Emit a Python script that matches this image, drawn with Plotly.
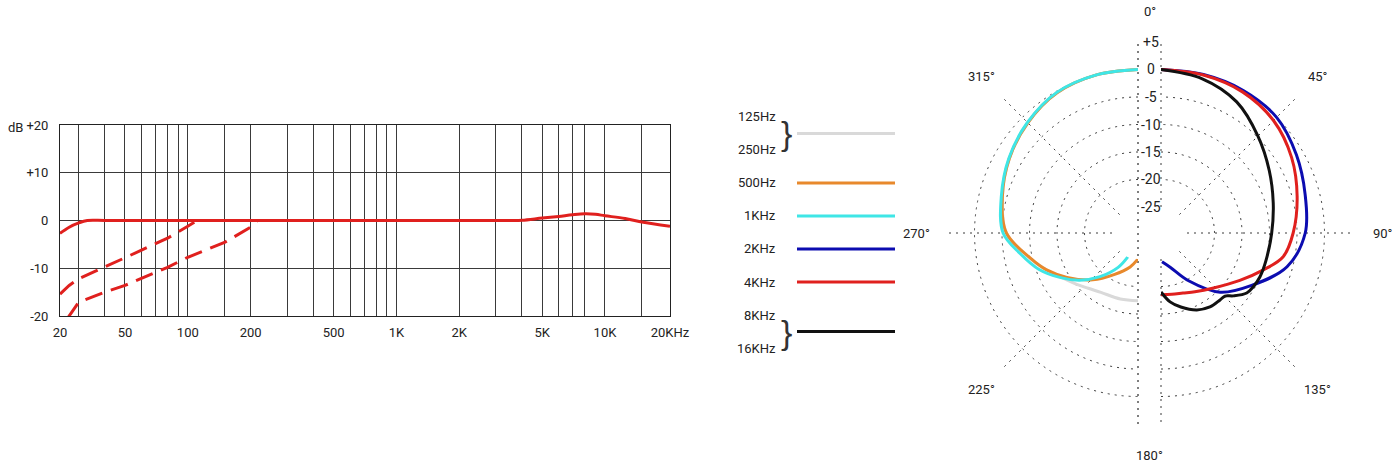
import math
import plotly.graph_objects as go

W, H = 1400, 465

# ---------------- frequency response (Hz / dB) ----------------
resp_freq = [24.4, 27, 30, 33, 40, 60, 100, 1000, 2000, 3000, 3600, 4000, 5000, 6000, 7000, 8000, 9000,
             10000, 12500, 15000, 20500]
resp_db = [-2.7, -1.4, -0.5, 0, 0, 0, 0, 0, 0, 0, 0, 0.05, 0.5, 0.85, 1.2, 1.4, 1.3, 1.0, 0.4, -0.3, -1.2]

cut1_freq = [24.4, 27, 30, 40, 50, 60, 80, 100, 111]
cut1_db = [-15.4, -13.6, -12.2, -9.8, -7.8, -6.2, -3.7, -1.2, 0]

cut2_freq = [26.5, 30, 40, 50, 80, 100, 150, 200, 216]
cut2_db = [-20.5, -17.1, -15.0, -13.6, -9.8, -7.7, -4.6, -1.4, 0]

grid_freq = [24.4, 30, 40, 50, 60, 70, 80, 90, 100, 150, 200, 300, 400, 500, 600, 700, 800, 900,
             1000, 2000, 3000, 4000, 5000, 6000, 7000, 8000, 10000, 15000, 20500]
freq_labels = {24.4: '20', 50: '50', 100: '100', 200: '200', 500: '500',
               1000: '1K', 2000: '2K', 5000: '5K', 10000: '10K', 20500: '20KHz'}

db_ticks = [-20, -10, 0, 10, 20]
db_labels = ['-20', '-10', '0', '+10', '+20']

# ---------------- polar pattern (deg / dB) ----------------
ring_db = [-25, -20, -15, -10, -5, 0, 5]
ring_labels = ['-25', '-20', '-15', '-10', '-5', '0', '+5']

# left half: 125/250Hz, 500Hz, 1KHz
gray_theta = [360, 345, 330, 315, 300, 285, 270, 257, 245, 238, 230, 222, 212, 195, 180]
gray_r = [0, 0, -0.3, -1.4, -2.7, -4.2, -5.8, -9.5, -12.5, -14.0, -15.2, -16.2, -17.0, -17.3, -17.4]

orange_theta = [360, 345, 330, 315, 300, 285, 270, 257, 248, 238, 224, 210, 193, 180]
orange_r = [0, 0, -0.3, -1.4, -2.7, -4.2, -5.8, -9.6, -11.8, -14.5, -17.9, -21.0, -23.4, -25]

cyan_theta = [360, 345, 330, 315, 300, 285, 270, 260, 250, 240, 231, 221, 210, 203]
cyan_r = [0, 0, -0.2, -1.3, -2.6, -4.0, -5.2, -8.0, -10.5, -13.5, -16.1, -19.2, -22.5, -25]

# right half: 2KHz, 4KHz, 8/16KHz
blue_theta = [0, 15, 30, 45, 60, 75, 90, 105, 120, 135, 150, 165, 178]
blue_r = [0, 0.1, 0.2, 0, -1.3, -2.6, -3.5, -6.0, -10.7, -14.5, -19.7, -23.3, -24.5]

red_theta = [0, 15, 30, 45, 60, 75, 90, 101, 110, 121, 137, 150, 160, 170, 180]
red_r = [0, 0, -0.1, -0.8, -2.3, -4.1, -5.7, -7.1, -10.0, -13.0, -16.0, -17.4, -18.1, -18.4, -18.5]

black_theta = [0, 15, 30, 45, 60, 75, 90, 105, 114, 120, 125, 131, 134.6, 138.6, 146.5, 155, 165, 172.5, 180]
black_r = [0, -0.7, -2.2, -4.8, -7.0, -8.6, -9.6, -10.0, -10.05, -10.3, -10.7, -12.3, -13.4, -13.5, -13.6, -14.3,
           -15.8, -17.1, -19]

# legend rows
leg_labels = ['125Hz', '250Hz', '500Hz', '1KHz', '2KHz', '4KHz', '8KHz', '16KHz']
series_names = ['125Hz/250Hz', '500Hz', '1KHz', '2KHz', '4KHz', '8KHz/16KHz']
series_colors = ['#d9d9d9', '#e8892c', '#3fe6e6', '#0c0cb0', '#e0201e', '#111111']
series_rows = [0.5, 2, 3, 4, 5, 6.5]

RED = '#e0201e'
GRID = '#3a3a3a'
FONT = 'Roboto'

fig = go.Figure()

# frequency response
fig.add_trace(go.Scatter(x=cut2_freq, y=cut2_db, mode='lines', line=dict(color=RED, width=3, dash='18px,9px'),
                         xaxis='x', yaxis='y', showlegend=False))
fig.add_trace(go.Scatter(x=cut1_freq, y=cut1_db, mode='lines', line=dict(color=RED, width=3, dash='18px,9px'),
                         xaxis='x', yaxis='y', showlegend=False))
fig.add_trace(go.Scatter(x=resp_freq, y=resp_db, mode='lines', line=dict(color=RED, width=3, shape='spline'),
                         xaxis='x', yaxis='y', showlegend=False))

# polar curves
left = [(gray_theta, gray_r, 0), (orange_theta, orange_r, 1), (cyan_theta, cyan_r, 2)]
right = [(blue_theta, blue_r, 3), (red_theta, red_r, 4), (black_theta, black_r, 5)]
for th, r, i in left:
    fig.add_trace(go.Scatterpolar(theta=th, r=r, mode='lines', subplot='polar2', showlegend=False,
                                  line=dict(color=series_colors[i], width=3, shape='spline')))
for th, r, i in right:
    fig.add_trace(go.Scatterpolar(theta=th, r=r, mode='lines', subplot='polar', showlegend=False,
                                  line=dict(color=series_colors[i], width=3, shape='spline')))

# legend lines
for i, name in enumerate(series_names):
    fig.add_trace(go.Scatter(x=[59, 157], y=[series_rows[i]] * 2, mode='lines', name=name,
                             line=dict(color=series_colors[i], width=3), xaxis='x3', yaxis='y3',
                             showlegend=False, hoverinfo='skip'))

# polar geometry (pixels)
R_OUT = 191
CY = 233
CX_L, CX_R = 1138, 1161
HOLE = 26 / R_OUT
dot = '2px,5px'

polar_base = dict(
    bgcolor='rgba(0,0,0,0)',
    hole=HOLE,
    radialaxis=dict(range=[-25, 5], tickvals=ring_db, showticklabels=False, ticks='', showline=False,
                    gridcolor=GRID, griddash=dot, gridwidth=1.3),
)
ang_base = dict(rotation=90, direction='clockwise', showline=False, ticks='', showticklabels=False,
                gridcolor=GRID, griddash=dot, gridwidth=1.3)

ydom_polar = [1 - (CY + R_OUT) / H, 1 - (CY - R_OUT) / H]

fig.update_layout(
    width=W, height=H,
    margin=dict(l=0, r=0, t=0, b=0, autoexpand=False),
    paper_bgcolor='white', plot_bgcolor='white',
    font=dict(family=FONT, size=13, color='#222'),
    xaxis=dict(type='log', domain=[60 / W, 670 / W], range=[math.log10(24.4), math.log10(20500)],
               tickvals=grid_freq, ticktext=[freq_labels.get(f, '') for f in grid_freq],
               showgrid=True, gridcolor=GRID, gridwidth=1, ticks='outside', ticklen=4,
               tickcolor='rgba(0,0,0,0)', showline=True, mirror=True, automargin=False,
               linecolor='#222', linewidth=1, zeroline=False, anchor='y', tickfont=dict(size=13),
               fixedrange=True),
    yaxis=dict(domain=[1 - 316 / H, 1 - 125 / H], range=[-20, 20], tickvals=db_ticks, ticktext=db_labels,
               showgrid=True, gridcolor=GRID, gridwidth=1, ticks='outside', ticklen=8,
               tickcolor='rgba(0,0,0,0)', showline=True, mirror=True, automargin=False,
               linecolor='#222', linewidth=1, zeroline=False, anchor='x', tickfont=dict(size=13),
               fixedrange=True),
    xaxis3=dict(domain=[738 / W, 896 / W], range=[0, 158], visible=False, anchor='y3', fixedrange=True,
                automargin=False),
    yaxis3=dict(domain=[1 - 364.5 / H, 1 - 100.5 / H], range=[7.5, -0.5], visible=False, anchor='x3',
                fixedrange=True, automargin=False),
    polar=dict(polar_base, domain=dict(x=[CX_R / W, (CX_R + R_OUT) / W], y=ydom_polar), sector=[-90, 90],
               angularaxis=dict(ang_base, tickvals=[0, 45, 90, 135, 180])),
    # left half: 315°, 270°, 225° spokes (as -45, -90, -135)
    polar2=dict(polar_base, domain=dict(x=[(CX_L - R_OUT) / W, CX_L / W], y=ydom_polar), sector=[90, 270],
                angularaxis=dict(ang_base, tickvals=[-135, -90, -45])),
)

# straight edge of the left half (0°-180° line)
fig.add_shape(type='line', xref='paper', yref='paper', x0=CX_L / W, x1=CX_L / W,
              y0=ydom_polar[0], y1=ydom_polar[1], layer='below',
              line=dict(color=GRID, width=1.3, dash=dot))

ann = []
# dB label
ann.append(dict(x=15, y=127, xref='paper', yref='paper', text='dB', showarrow=False))

# legend labels and braces
for i, t in enumerate(leg_labels):
    ann.append(dict(x=40, y=i, xref='x3', yref='y3', text=t, showarrow=False, xanchor='right',
                    yanchor='middle', font=dict(size=13)))
for row in [0.5, 6.5]:
    ann.append(dict(x=48, y=row, xref='x3', yref='y3', text='}', showarrow=False, xanchor='center',
                    yanchor='middle', font=dict(size=34, family='Liberation Sans', color='#333')))

# ring labels between the two halves
cx_mid = (CX_L + CX_R) / 2
for v, t in zip(ring_db, ring_labels):
    rpx = HOLE * R_OUT + (v + 25) / 30 * (R_OUT - HOLE * R_OUT)
    ann.append(dict(x=cx_mid + 1, y=CY - rpx, xref='paper', yref='paper', text=t, showarrow=False,
                    font=dict(size=14)))

# angle labels
ang_vals = [0, 45, 90, 135, 180, 225, 270, 315]
R_LAB = 222
for a in ang_vals:
    if a in (0, 180):
        cx = cx_mid
    elif a < 180:
        cx = CX_R
    else:
        cx = CX_L
    x = cx + R_LAB * math.sin(math.radians(a))
    y = CY - R_LAB * math.cos(math.radians(a))
    ann.append(dict(x=x, y=y, xref='paper', yref='paper', text=f'{a}°', showarrow=False, font=dict(size=13)))

# convert pixel positions to paper fractions
for a in ann:
    if a['xref'] == 'paper':
        a['x'] = a['x'] / W
        a['y'] = 1 - a['y'] / H
        a['xanchor'] = 'center'
        a['yanchor'] = 'middle'

fig.update_layout(annotations=ann)
fig.write_html("out.html", config={'displayModeBar': False},
               post_script="document.body.style.margin='0';")
